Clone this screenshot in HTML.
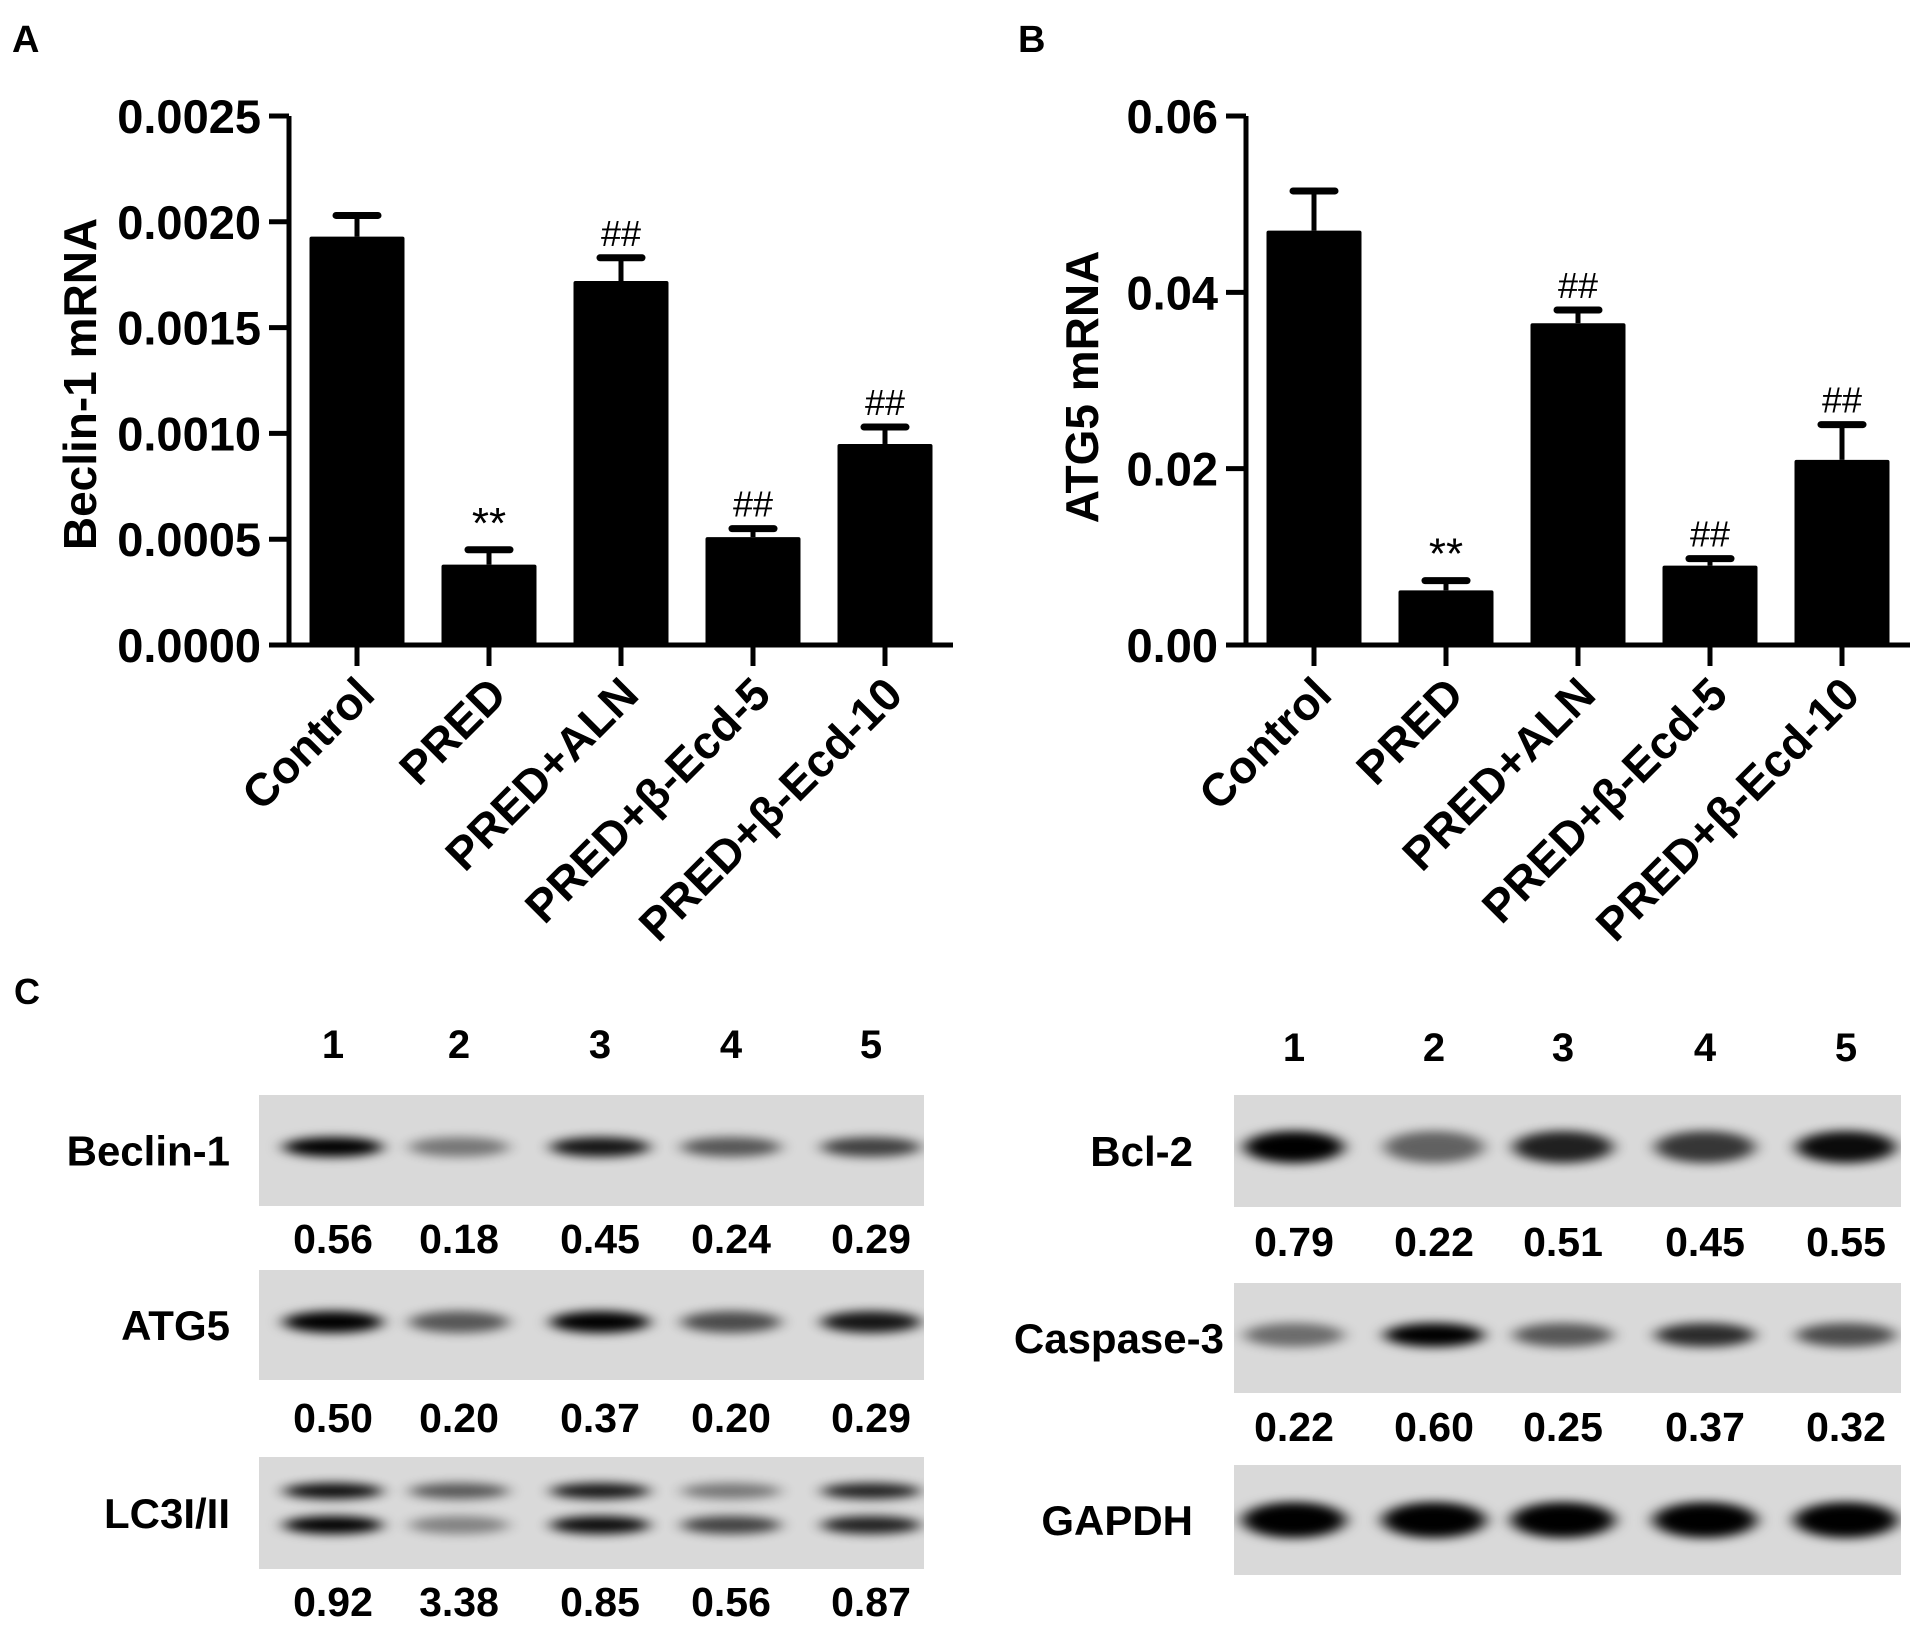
<!DOCTYPE html>
<html><head><meta charset="utf-8"><style>
html,body{margin:0;padding:0;background:#fff;}
svg{display:block;font-family:"Liberation Sans",Arial,sans-serif;font-weight:bold;}
</style></head><body>
<svg id="fig" width="1913" height="1625" viewBox="0 0 1913 1625">
<defs id="defs">
<filter id="blur" x="-50%" y="-100%" width="200%" height="300%"><feGaussianBlur stdDeviation="8 5"/></filter>
</defs>
<g id="root"></g>
</svg>
<script>
// ---- Panel A/B data ----
const categories = ["Control","PRED","PRED+ALN","PRED+\u03B2-Ecd-5","PRED+\u03B2-Ecd-10"];
const beclinValues = [0.00193,0.00038,0.00172,0.00051,0.00095];
const beclinErrors = [0.00010,0.00007,0.00011,0.00004,0.00008];
const beclinTicks = ["0.0000","0.0005","0.0010","0.0015","0.0020","0.0025"];
const beclinMarks = ["","**","##","##","##"];
const atg5Values = [0.0470,0.0062,0.0365,0.0090,0.0210];
const atg5Errors = [0.0045,0.0011,0.0015,0.0008,0.0040];
const atg5Ticks = ["0.00","0.02","0.04","0.06"];
const atg5Marks = ["","**","##","##","##"];
// ---- Panel C data ----
const lanes = ["1","2","3","4","5"];
const beclinBlot = ["0.56","0.18","0.45","0.24","0.29"];
const atg5Blot = ["0.50","0.20","0.37","0.20","0.29"];
const lc3Blot = ["0.92","3.38","0.85","0.56","0.87"];
const bcl2Blot = ["0.79","0.22","0.51","0.45","0.55"];
const casp3Blot = ["0.22","0.60","0.25","0.37","0.32"];

const NS="http://www.w3.org/2000/svg";
const root=document.getElementById('root');
const defs=document.getElementById('defs');
function el(tag,attrs,parent,text){const e=document.createElementNS(NS,tag);for(const k in attrs)e.setAttribute(k,attrs[k]);if(text!==undefined)e.textContent=text;(parent||root).appendChild(e);return e;}

function barChart(o){
  const g=el('g',{});
  
  
  const y0=645,y1=116;
  const ymax=parseFloat(o.ticks[o.ticks.length-1]);
  const yScale=v=>y0-(v/ymax)*(y0-y1);
  const step=132;
  const xc=i=>o.ax+68+step*i;
  const ya=el('line',{x1:o.ax,y1:y1,x2:o.ax,y2:y0+2,stroke:'#000','stroke-width':5},g);
  
  
  const xa=el('line',{x1:o.ax-20,y1:y0,x2:o.x1,y2:y0,stroke:'#000','stroke-width':5},g);
  
  
  o.ticks.forEach(t=>{
    const y=yScale(parseFloat(t));
    el('line',{x1:o.ax-20,y1:y,x2:o.ax,y2:y,stroke:'#000','stroke-width':5},g);
    const tx=el('text',{x:o.ax-28,y:y+17,'text-anchor':'end','font-size':47},g,t);
    
    
  });
  const yt=el('text',{x:0,y:0,'text-anchor':'middle','font-size':46,transform:`translate(${o.titleX},${o.titleY}) rotate(-90)`},g,o.title);
  
  
  const bw=95;
  categories.forEach((c,i)=>{
    const cx=xc(i);
    el('line',{x1:cx,y1:y0,x2:cx,y2:y0+21,stroke:'#000','stroke-width':5},g);
    const v=o.values[i],e=o.errors[i];
    const ey=yScale(v+e);
    el('line',{x1:cx,y1:yScale(v),x2:cx,y2:ey,stroke:'#000','stroke-width':5},g);
    const cap=el('line',{x1:cx-21,y1:ey,x2:cx+21,y2:ey,stroke:'#000','stroke-width':7,'stroke-linecap':'round'},g);
    
    
    const b=el('rect',{x:cx-bw/2,y:yScale(v),width:bw,height:y0-yScale(v),fill:'#000',rx:2},g);
    
    
    if(o.marks[i]){
      const m=el('text',{x:cx,y:ey-12,'text-anchor':'middle','font-size':o.marks[i]=='**'?44:36,'font-weight':'normal'},g,o.marks[i]);
      
      
    }
    const lab=el('text',{x:0,y:0,'text-anchor':'end','font-size':46,transform:`translate(${cx+20},${y0+52}) rotate(-45)`},g,c);
    
    
  });
  const L=el('text',{x:o.letterX,y:52,'font-size':38},g,o.letter);
  
  
}
barChart({name:'beclin-mrna-chart',ax:289,x1:953,values:beclinValues,errors:beclinErrors,ticks:beclinTicks,marks:beclinMarks,title:'Beclin-1 mRNA',titleX:96,titleY:384,letter:'A',letterX:12});
barChart({name:'atg5-mrna-chart',ax:1246,x1:1910,values:atg5Values,errors:atg5Errors,ticks:atg5Ticks,marks:atg5Marks,title:'ATG5 mRNA',titleX:1098,titleY:387,letter:'B',letterX:1018});

// ---- Panel C ----
const C=el('text',{x:14,y:1004,'font-size':36},root,'C');


const leftX=[333,459,600,731,871], rightX=[1294,1434,1563,1705,1846];
function laneNums(xs,y){xs.forEach((x,i)=>{const t=el('text',{x:x,y:y,'text-anchor':'middle','font-size':40},root,lanes[i]);});}
laneNums(leftX,1058);laneNums(rightX,1061);
let clipId=0;
function blot(name,label,bx,bw,by,bh,xs,vals,labelX,numY,bandRows,big){
  const g=el('g',{});
  
  
  const id='clip'+(clipId++);
  const cp=el('clipPath',{id:id},defs);
  el('rect',{x:bx,y:by,width:bw,height:bh},cp);
  el('rect',{x:bx,y:by,width:bw,height:bh,fill:'#d9d9d9'},g);
  const bands=el('g',{'clip-path':`url(#${id})`},g);
  bandRows.forEach(r=>{
    xs.forEach((x,i)=>{
      const s=r.s[i];
      el('ellipse',{cx:x,cy:by+r.y,rx:big?52:50,ry:r.ry,fill:'#000',opacity:s,filter:'url(#blur)'},bands);
    });
  });
  const lb=el('text',{x:labelX,y:by+bh/2+15,'text-anchor':'end','font-size':42},g,label);
  
  
  if(vals){vals.forEach((v,i)=>{const t=el('text',{x:xs[i],y:numY,'text-anchor':'middle','font-size':41},g,v);});}
}
blot('beclin-1-blot','Beclin-1',259,665,1095,111,leftX,beclinBlot,230,1253,[{y:52,ry:10,s:[1,0.45,0.9,0.6,0.7]}]);
blot('atg5-blot','ATG5',259,665,1270,110,leftX,atg5Blot,230,1432,[{y:52,ry:11,s:[1,0.6,1,0.65,0.9]}]);
blot('lc3-blot','LC3I/II',259,665,1457,112,leftX,lc3Blot,230,1616,[{y:34,ry:8,s:[0.95,0.6,0.9,0.45,0.85]},{y:68,ry:9,s:[1,0.4,0.95,0.7,0.85]}]);
blot('bcl-2-blot','Bcl-2',1234,667,1095,112,rightX,bcl2Blot,1193,1256,[{y:52,ry:16,s:[1,0.55,0.85,0.75,0.95]}]);
blot('caspase-3-blot','Caspase-3',1234,667,1283,110,rightX,casp3Blot,1224,1441,[{y:52,ry:12,s:[0.5,1,0.6,0.8,0.65]}]);
blot('gapdh-blot','GAPDH',1234,667,1465,110,rightX,null,1193,0,[{y:55,ry:18,s:[1,1,1,1,1]}],true);
</script>
</body></html>
